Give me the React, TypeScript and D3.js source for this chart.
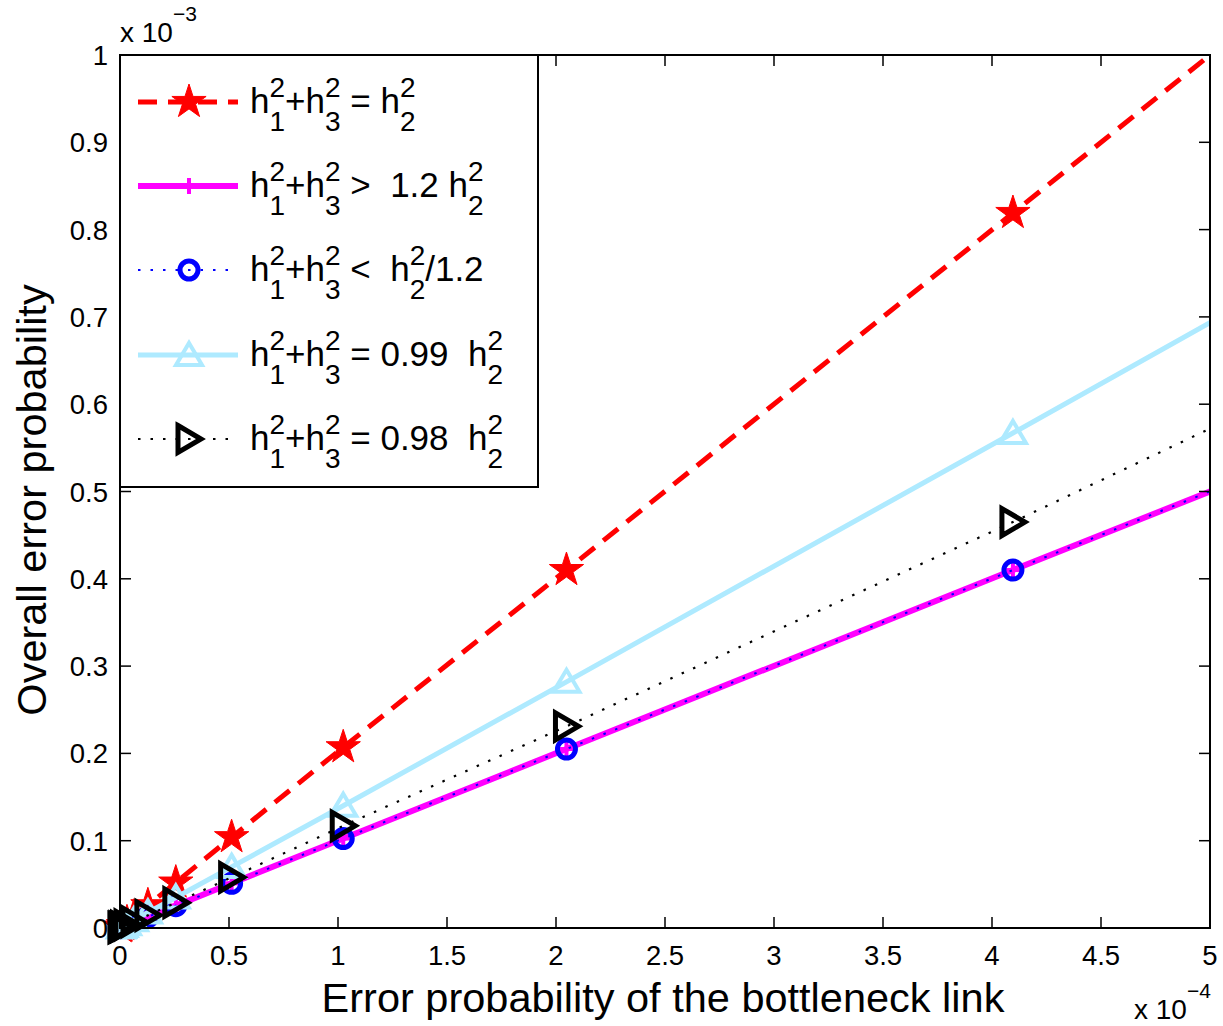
import React from "react";
import * as d3 from "d3";

// ---- data (x in units of 1e-4, y in units of 1e-3) ----
const xValues = [8.192, 4.096, 2.048, 1.024, 0.512, 0.256, 0.128, 0.064, 0.032, 0.016, 0.008, 0.004];
const redEqual = [1.639, 0.819, 0.41, 0.207, 0.104, 0.052, 0.026, 0.013, 0.0065, 0.0032, 0.0016, 0.0008];
const magentaGreater = [0.818, 0.41, 0.205, 0.1025, 0.0512, 0.0256, 0.0128, 0.0064, 0.0032, 0.0016, 0.0008, 0.0004];
const blueLess = [0.818, 0.41, 0.205, 0.1025, 0.0512, 0.0256, 0.0128, 0.0064, 0.0032, 0.0016, 0.0008, 0.0004];
const cyan099 = [1.14, 0.567, 0.282, 0.14, 0.07, 0.035, 0.0177, 0.0089, 0.0044, 0.0022, 0.0011, 0.0006];
const black098 = [0.95, 0.465, 0.231, 0.117, 0.058, 0.029, 0.0145, 0.0073, 0.0036, 0.0018, 0.0009, 0.0005];

const xTicks = [0, 0.5, 1, 1.5, 2, 2.5, 3, 3.5, 4, 4.5, 5];
const xTickLabels = ["0", "0.5", "1", "1.5", "2", "2.5", "3", "3.5", "4", "4.5", "5"];
const yTicks = [0, 0.1, 0.2, 0.3, 0.4, 0.5, 0.6, 0.7, 0.8, 0.9, 1];
const yTickLabels = ["0", "0.1", "0.2", "0.3", "0.4", "0.5", "0.6", "0.7", "0.8", "0.9", "1"];

const FONT = "'Liberation Sans', Arial, Helvetica, sans-serif";
const W = 1223;
const H = 1026;
const L = 120, R = 1210, T = 55, B = 928;

const x = d3.scaleLinear().domain([0, 5]).range([L, R]);
const y = d3.scaleLinear().domain([0, 1]).range([B, T]);

type Marker = "star" | "plus" | "circle" | "triUp" | "triRight";

interface Series {
  key: string;
  values: number[];
  color: string;
  width: number;
  dash?: string;
  marker: Marker;
  label: (string | [string, string])[];
}

const series: Series[] = [
  { key: "red", values: redEqual, color: "#ff0000", width: 5, dash: "19,11", marker: "star",
    label: ["h", ["2", "1"], "+h", ["2", "3"], " = h", ["2", "2"]] },
  { key: "magenta", values: magentaGreater, color: "#ff00ff", width: 6, marker: "plus",
    label: ["h", ["2", "1"], "+h", ["2", "3"], " >  1.2 h", ["2", "2"]] },
  { key: "blue", values: blueLess, color: "#0000ff", width: 2, dash: "2.5,10", marker: "circle",
    label: ["h", ["2", "1"], "+h", ["2", "3"], " <  h", ["2", "2"], "/1.2"] },
  { key: "cyan", values: cyan099, color: "#aeeaff", width: 5, marker: "triUp",
    label: ["h", ["2", "1"], "+h", ["2", "3"], " = 0.99  h", ["2", "2"]] },
  { key: "black", values: black098, color: "#000000", width: 2.2, dash: "2.5,10", marker: "triRight",
    label: ["h", ["2", "1"], "+h", ["2", "3"], " = 0.98  h", ["2", "2"]] },
];

function starPath(r: number) {
  const ri = r * 0.382;
  const pts: [number, number][] = [];
  for (let i = 0; i < 10; i++) {
    const a = -Math.PI / 2 + (i * Math.PI) / 5;
    const rr = i % 2 === 0 ? r : ri;
    pts.push([rr * Math.cos(a), rr * Math.sin(a)]);
  }
  return "M" + pts.map((p) => p.join(",")).join("L") + "Z";
}

function MarkerShape({ type, cx, cy, color }: { type: Marker; cx: number; cy: number; color: string }) {
  switch (type) {
    case "star":
      return <path d={starPath(18)} transform={`translate(${cx},${cy})`} fill={color} stroke={color} strokeWidth={1} />;
    case "plus":
      return (
        <g stroke={color} strokeWidth={4}>
          <line x1={cx - 8} x2={cx + 8} y1={cy} y2={cy} />
          <line x1={cx} x2={cx} y1={cy - 8} y2={cy + 8} />
        </g>
      );
    case "circle":
      return <circle cx={cx} cy={cy} r={9} fill="none" stroke={color} strokeWidth={5} />;
    case "triUp":
      return (
        <path d={`M${cx},${cy - 12}L${cx + 13},${cy + 10}L${cx - 13},${cy + 10}Z`} fill="none" stroke={color} strokeWidth={4} strokeLinejoin="miter" />
      );
    case "triRight":
      return (
        <path d={`M${cx - 11},${cy - 13.5}L${cx + 12},${cy}L${cx - 11},${cy + 13.5}Z`} fill="none" stroke={color} strokeWidth={5} strokeLinejoin="miter" />
      );
  }
}

function LegendLabel({ parts, x0, yb }: { parts: (string | [string, string])[]; x0: number; yb: number }) {
  const base = 35;
  const small = 28;
  const supOff = -16;
  const subOff = 18;
  const elems: React.ReactNode[] = [];
  let cur = 0; // current offset from baseline
  parts.forEach((p, i) => {
    if (typeof p === "string") {
      elems.push(
        <tspan key={i} dy={-cur} fontSize={base}>{p}</tspan>
      );
      cur = 0;
    } else {
      elems.push(
        <tspan key={i + "s"} dy={supOff - cur} fontSize={small}>{p[0]}</tspan>
      );
      elems.push(
        <tspan key={i + "b"} dx={-0.556 * small} dy={subOff - supOff} fontSize={small}>{p[1]}</tspan>
      );
      cur = subOff;
    }
  });
  return (
    <text x={x0} y={yb} fontFamily={FONT} fill="#000" style={{ whiteSpace: "pre" }}>
      {elems}
    </text>
  );
}

export default function App() {
  const lineGen = d3
    .line<number>()
    .x((_, i) => x(xValues[i]))
    .y((d) => y(d));

  const legendX0 = 120, legendY0 = 55, legendX1 = 538, legendY1 = 487;
  const entryY = [102, 186, 270, 355, 439];

  return (
    <svg width={W} height={H} style={{ position: "absolute", left: 0, top: 0, background: "#fff" }}>
      <rect x={0} y={0} width={W} height={H} fill="#fff" />
      <defs>
        <clipPath id="plotClip">
          <rect x={L} y={T} width={R - L} height={B - T} />
        </clipPath>
      </defs>

      {/* series lines and markers */}
      {series.map((s) => (
        <g key={s.key}>
          <path
            d={lineGen(s.values) || ""}
            fill="none"
            stroke={s.color}
            strokeWidth={s.width}
            strokeDasharray={s.dash}
            clipPath="url(#plotClip)"
          />
          {s.values.map((v, i) =>
            xValues[i] <= 5 && v <= 1 ? (
              <MarkerShape key={i} type={s.marker} cx={x(xValues[i])} cy={y(v)} color={s.color} />
            ) : null
          )}
        </g>
      ))}

      {/* axes box */}
      <rect x={L} y={T} width={R - L} height={B - T} fill="none" stroke="#000" strokeWidth={2} />
      {/* ticks */}
      {xTicks.map((t) => (
        <g key={"xt" + t} stroke="#000" strokeWidth={1.5}>
          <line x1={x(t)} x2={x(t)} y1={B} y2={B - 11} />
          <line x1={x(t)} x2={x(t)} y1={T} y2={T + 11} />
        </g>
      ))}
      {yTicks.map((t) => (
        <g key={"yt" + t} stroke="#000" strokeWidth={1.5}>
          <line x1={L} x2={L + 11} y1={y(t)} y2={y(t)} />
          <line x1={R} x2={R - 11} y1={y(t)} y2={y(t)} />
        </g>
      ))}
      {xTicks.map((t, i) => (
        <text key={"xl" + t} x={x(t)} y={B + 37} textAnchor="middle" fontFamily={FONT} fontSize={27.5} fill="#000">
          {xTickLabels[i]}
        </text>
      ))}
      {yTicks.map((t, i) => (
        <text key={"yl" + t} x={L - 12} y={y(t) + 10} textAnchor="end" fontFamily={FONT} fontSize={27.5} fill="#000">
          {yTickLabels[i]}
        </text>
      ))}

      {/* exponent labels */}
      <text x={120} y={42} fontFamily={FONT} fontSize={28} fill="#000">
        x 10<tspan dy={-21} fontSize={21}>−3</tspan>
      </text>
      <text x={1134} y={1019} fontFamily={FONT} fontSize={28} fill="#000">
        x 10<tspan dy={-21} fontSize={21}>−4</tspan>
      </text>

      {/* axis labels */}
      <text x={663} y={1012} textAnchor="middle" fontFamily={FONT} fontSize={41.5} fill="#000">
        Error probability of the bottleneck link
      </text>
      <text transform={`translate(46,500) rotate(-90)`} textAnchor="middle" fontFamily={FONT} fontSize={41.5} fill="#000">
        Overall error probability
      </text>

      {/* legend */}
      <rect x={legendX0} y={legendY0} width={legendX1 - legendX0} height={legendY1 - legendY0} fill="#fff" stroke="#000" strokeWidth={2} />
      {series.map((s, i) => (
        <g key={"lg" + s.key}>
          <line x1={138} x2={238} y1={entryY[i]} y2={entryY[i]} stroke={s.color} strokeWidth={s.width} strokeDasharray={s.dash} />
          <MarkerShape type={s.marker} cx={189} cy={entryY[i]} color={s.color} />
          <LegendLabel parts={s.label} x0={250} yb={entryY[i] + 11} />
        </g>
      ))}
    </svg>
  );
}
